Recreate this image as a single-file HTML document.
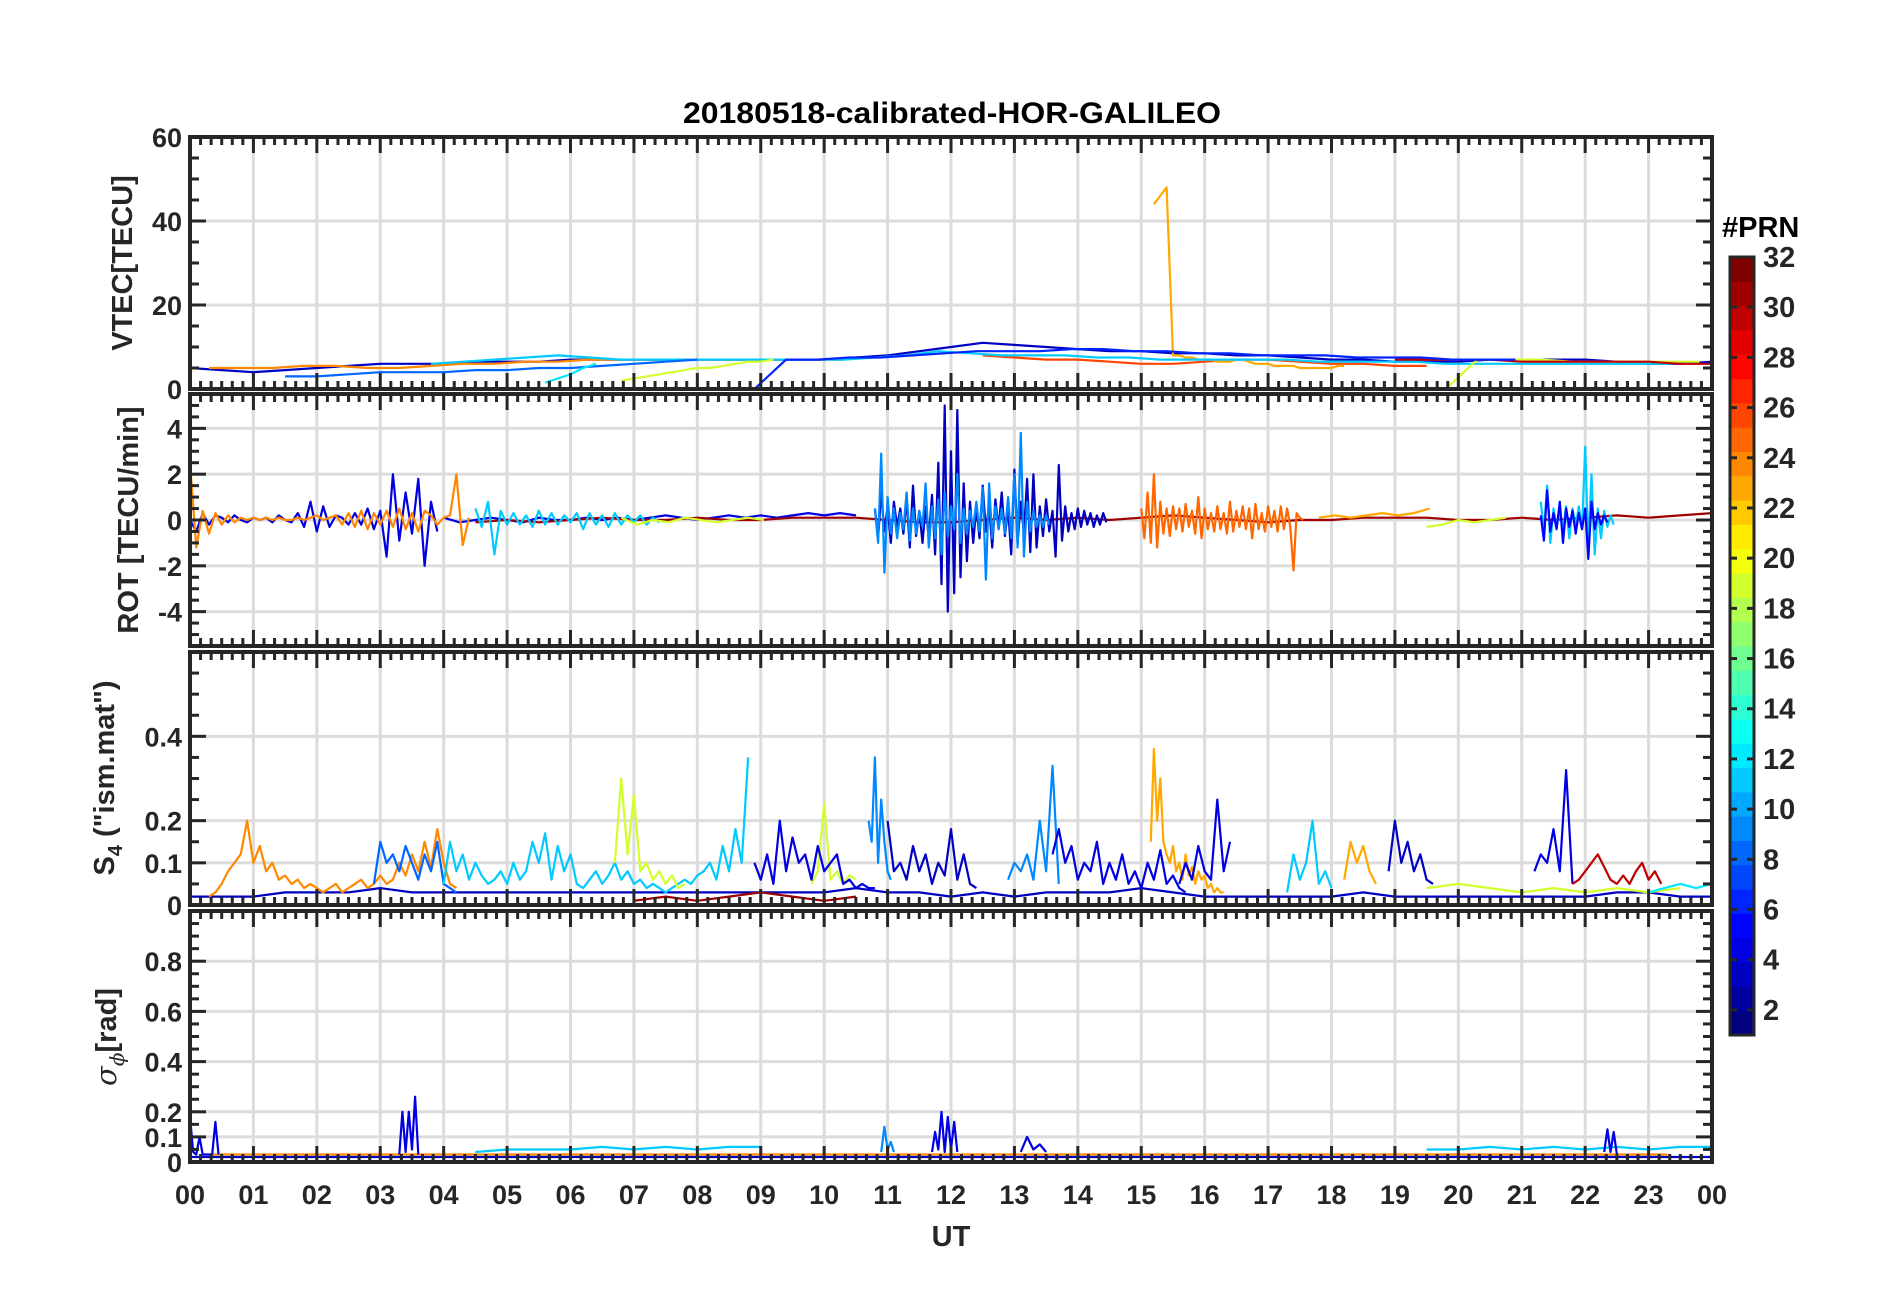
<!DOCTYPE html>
<html><head><meta charset="utf-8"><title>20180518-calibrated-HOR-GALILEO</title>
<style>
html,body{margin:0;padding:0;background:#fff;}
svg{display:block;font-family:"Liberation Sans",Arial,sans-serif;}
</style></head>
<body>
<svg id="chart" width="1902" height="1292" viewBox="0 0 1902 1292" xmlns="http://www.w3.org/2000/svg">
<rect width="1902" height="1292" fill="#fff"/>
<text x="952" y="123" text-anchor="middle" font-size="30" font-weight="bold" fill="#000" textLength="538" lengthAdjust="spacingAndGlyphs">20180518-calibrated-HOR-GALILEO</text>
<g id="panels"></g>
<text x="951" y="1246" text-anchor="middle" font-size="29" font-weight="bold" fill="#262626">UT</text>
<text transform="translate(132,263) rotate(-90)" text-anchor="middle" font-size="29" font-weight="bold" fill="#262626">VTEC[TECU]</text>
<text transform="translate(138,520) rotate(-90)" text-anchor="middle" font-size="29" font-weight="bold" fill="#262626">ROT [TECU/min]</text>
<text transform="translate(114,778) rotate(-90)" text-anchor="middle" font-size="29" font-weight="bold" fill="#262626">S<tspan font-size="20" dy="8">4</tspan><tspan dy="-8"> ("ism.mat")</tspan></text>
<text transform="translate(116,1037) rotate(-90)" text-anchor="middle" font-size="29" font-weight="bold" fill="#262626"><tspan font-style="italic" font-family="'DejaVu Serif',serif" font-weight="normal">σ</tspan><tspan font-size="20" dy="8" font-style="italic" font-family="'DejaVu Serif',serif" font-weight="normal">ϕ</tspan><tspan dy="-8">[rad]</tspan></text>
<g id="colorbar"></g>
<text x="1722" y="237" font-size="29" font-weight="bold" fill="#000">#PRN</text>
</svg>
<script>
// ---------- DATA ----------
const hourLabels = ["00","01","02","03","04","05","06","07","08","09","10","11","12","13","14","15","16","17","18","19","20","21","22","23","00"];
const vtecTicks = [0,20,40,60];
const rotTicks = [-4,-2,0,2,4];
const s4Ticks = [0,0.1,0.2,0.4];
const sigmaTicks = [0,0.1,0.2,0.4,0.6,0.8];
const prnTicks = [2,4,6,8,10,12,14,16,18,20,22,24,26,28,30,32];

const vtecSeries = [
 {prn:3,t0:0,dt:0.5,v:[5,4.5,4,4.5,5,5.5,6,6,6,6.5,6.5,6.5,7,7,7,7,7,7,7,7,7,7.5,8,9,10,11,10.5,10,9.5,9,9,8.5,8.5,8,8,7.5,7,7,6.5,6.5,6.5,7,7,7,7,6.5,6,6,6.5]},
 {prn:24,t0:0.3,dt:0.5,v:[5,5,5,5.5,5.5,5,5,5.5,6,6,6.5,6.5,7,7,7,7,7,7,7,7,7]},
 {prn:26,t0:12.5,dt:0.5,v:[8,7.5,7,7,6.5,6,6,6.5,7,7,6.5,6,6,5.5,5.5]},
 {prn:23,t0:15.2,dt:0.1,v:[44,46,48,8,8,7.5,7.5,7,7,7,6.5,6.5,6.5,7,7,6.5,6,6,6,5.5,5.5,5.5,5.5,5,5,5,5,5,5,5.5,5.5]},
 {prn:11,t0:3.8,dt:0.5,v:[6,6.5,7,7.5,8,7.5,7,7,7,7,7,7,7,7,7.5,8,9,8.5,8,8,8,7.5,7.5,7,7,7,7,7,6.5,6.5,6.5,6.5,6,6,6,6,6,6,6,6,6.5]},
 {prn:8,t0:1.5,dt:0.5,v:[3,3,3.5,4,4,4,4.5,4.5,5,5,5.5,6,6.5,7]},
 {prn:19,t0:6.8,dt:0.2,v:[2,2.5,3,3.5,4,4.5,5,5,5.5,6,6.5,6.5,7]},
 {prn:19,t0:19.8,dt:0.5,v:[0,7,7,7,6.5,6.5,6.5,6.5,6.5]},
 {prn:30,t0:19,dt:0.5,v:[7,7,7,7,6.5,6.5,6.5,6.5,6.5,6,6,5.5,5.5]},
 {prn:6,t0:8.9,dt:0.5,v:[0,7,7,7.5,7.5,8,8.5,9,9,9,9.5,9.5,9,9,8.5,8.5,8,8,8,7.5,7.5,7.5,7,7,7]},
 {prn:12,t0:5.6,dt:0.2,v:[1.5,2.5,3.5,5,6]}
];

const rotSeries = [
 {prn:4,t0:0,dt:0.1,v:[0,-0.5,0.3,-0.2,0.2,0.1,-0.1,0.2,0,-0.1,0.1,0,0.1,-0.1,0.2,0,-0.1,0.3,-0.3,0.8,-0.5,0.6,-0.3,0.2,0.1,-0.2,0.3,-0.2,0.5,-0.4,0.4,-1.6,2.0,-0.9,1.2,-0.6,1.8,-2.0,0.8,-0.5]},
 {prn:4,t0:4,dt:0.25,v:[0.1,-0.1,0,0.1,0,-0.1,0.1,0,0,0.1,0,0.1,0,0.1,0.2,0.1,0,0.1,0.2,0.1,0.2,0.1,0.2,0.3,0.2,0.3,0.2]},
 {prn:24,t0:0,dt:0.1,v:[2.5,-1.2,0.4,-0.6,0.3,-0.2,0.2,-0.1,0.1,0,0.1,0,0.1,0,0.1,0,0,0.1,0,0.1,0.2,0,0.1,0.2,-0.2,0.3,-0.3,0.4,-0.4,0.3,-0.2,0.4,-0.3,0.5,-0.4,0.3,-0.5,0.4,0.2,-0.2,0.1,0.2,2.0,-1.1,0.1]},
 {prn:31,t0:4.5,dt:0.5,v:[-0.1,0,-0.1,0,0.1,0,0,0.1,0,0,0.1,0.1,0.1,0,-0.1,-0.1,0,0.1,0,0.1,0,0.1,0.2,0.1,0,-0.1,0,0,0.1,0.1,0.1,0,0,0.1,0,0.1,0.2,0.1,0.2,0.3]},
 {prn:11,t0:4.5,dt:0.1,v:[0.5,-0.3,0.8,-1.5,0.4,-0.2,0.3,-0.2,0.2,-0.3,0.4,-0.2,0.3,-0.2,0.2,-0.1,0.3,-0.4,0.3,-0.2,0.2,-0.3,0.3,-0.2,0.2,-0.1,0.2,-0.2,0.1,-0.1]},
 {prn:19,t0:6.8,dt:0.25,v:[0.1,-0.2,0,-0.1,0.1,0,-0.1,0,0.1,0]},
 {prn:19,t0:19.5,dt:0.25,v:[-0.3,-0.2,0,-0.1,0,0.1]},
 {prn:3,t0:10.8,dt:0.05,v:[0.5,-0.8,1.2,-0.5,0.6,-1.0,0.8,-0.3,0.5,-0.6,0.9,-1.2,1.5,-0.7,0.4,-1.0,0.6,-0.8,1.1,-1.5,2.5,-2.8,5.0,-4.0,3.0,-3.2,4.8,-2.5,1.6,-1.8,0.8,-1.0,0.6,-0.8,1.5,-0.5,0.7,-1.2,0.9,-0.4,1.2,-0.7,0.5,-1.5,2.2,-1.0,0.8,-0.6,1.8,-1.4,2.0,-1.2,0.6,-0.7,0.9,-0.5,0.4,-1.6,2.4,-0.9,0.6,-0.5,0.3,-0.4,0.5,-0.3,0.4,-0.2,0.3,-0.3,0.2,-0.2,0.3,-0.1]},
 {prn:9,t0:10.8,dt:0.05,v:[0.5,-1,2.9,-2.3,1,-0.6,0.5,-0.8,0.3,-0.4,1.2,-0.9,0.5,-0.6,0.4,-0.3,1.6,-1.2,0.6,-0.8,0.9,-1.5,1.2,-0.7,0.6,-0.4,2.0,-1.0,0.5,-0.6,0.4,-0.3,0.8,-0.5,1.4,-2.6,1.6,-0.8,0.6,-0.4,0.5,-0.6,1.0,-0.8,2.0,-1.2,3.8,-1.6,0.8,-0.5,0.4,-0.3,0.2,-0.3,0.2,-0.2]},
 {prn:25,t0:15,dt:0.05,v:[0.5,-0.8,1.2,-1.0,2.0,-1.2,0.8,-0.6,0.5,-0.7,0.6,-0.4,0.5,-0.5,0.7,-0.3,0.4,-0.6,1.0,-0.8,0.5,-0.4,0.3,-0.5,0.6,-0.4,0.3,-0.6,0.8,-0.5,0.4,-0.3,0.6,-0.4,0.5,-0.8,0.7,-0.4,0.3,-0.5,0.6,-0.3,0.4,-0.5,0.6,-0.4,0.5,-0.3,-2.2,0.3,0.1,0]},
 {prn:23,t0:17.8,dt:0.25,v:[0.1,0.2,0.1,0.2,0.3,0.2,0.3,0.5]},
 {prn:11,t0:21.3,dt:0.05,v:[0.8,-0.5,1.5,-1.0,0.5,-0.3,0.4,-0.4,0.6,-0.8,0.5,-0.3,0.6,-0.4,3.2,-1.2,2.0,-1.5,0.5,-0.8,0.4,-0.3,0.2,-0.2]},
 {prn:5,t0:21.3,dt:0.05,v:[0.2,-0.9,1.3,-0.5,0.3,-0.4,0.8,-1.0,0.5,-0.3,0.4,-0.6,0.3,-0.4,0.5,-1.7,0.8,-0.4,0.3,-0.2,0.2,-0.1]}
];

const s4Series = [
 {prn:3,t0:0,dt:0.5,v:[0.02,0.02,0.02,0.03,0.03,0.03,0.04,0.03,0.03,0.03,0.03,0.03,0.03,0.03,0.03,0.03,0.03,0.03,0.03,0.03,0.03,0.04,0.03,0.03,0.02,0.03,0.02,0.03,0.03,0.03,0.04,0.03,0.02,0.02,0.02,0.02,0.02,0.03,0.02,0.02,0.02,0.02,0.02,0.02,0.02,0.03,0.03,0.02,0.02]},
 {prn:31,t0:7,dt:0.5,v:[0.01,0.02,0.01,0.02,0.03,0.02,0.01,0.02]},
 {prn:24,t0:0.3,dt:0.1,v:[0.02,0.03,0.05,0.08,0.1,0.12,0.2,0.1,0.14,0.08,0.1,0.06,0.07,0.05,0.06,0.04,0.05,0.04,0.03,0.04,0.05,0.03,0.04,0.05,0.06,0.04,0.05,0.07,0.05,0.06,0.1,0.07,0.12,0.08,0.15,0.09,0.18,0.1,0.05,0.04]},
 {prn:8,t0:2.9,dt:0.1,v:[0.05,0.15,0.1,0.12,0.08,0.14,0.1,0.06,0.12,0.08,0.15,0.05,0.04,0.03]},
 {prn:11,t0:4,dt:0.1,v:[0.05,0.15,0.08,0.12,0.06,0.1,0.07,0.05,0.06,0.08,0.05,0.1,0.06,0.08,0.15,0.1,0.17,0.06,0.14,0.08,0.12,0.05,0.04,0.06,0.08,0.05,0.07,0.1,0.06,0.08,0.05,0.06,0.04,0.05,0.04,0.03,0.04,0.05,0.06,0.05,0.07,0.08,0.1,0.06,0.14,0.08,0.18,0.1,0.35]},
 {prn:19,t0:6.7,dt:0.1,v:[0.1,0.3,0.12,0.26,0.08,0.1,0.06,0.08,0.05,0.07,0.04,0.05]},
 {prn:19,t0:9.8,dt:0.1,v:[0.05,0.08,0.24,0.06,0.08,0.05,0.07,0.06]},
 {prn:4,t0:8.9,dt:0.1,v:[0.1,0.06,0.12,0.05,0.2,0.08,0.16,0.1,0.12,0.06,0.14,0.08,0.1,0.12,0.05,0.06,0.04,0.05,0.04,0.04]},
 {prn:9,t0:10.7,dt:0.05,v:[0.2,0.15,0.35,0.1,0.25,0.15,0.08,0.06]},
 {prn:3,t0:11,dt:0.1,v:[0.2,0.08,0.1,0.06,0.14,0.08,0.12,0.05,0.1,0.07,0.18,0.06,0.12,0.05,0.04]},
 {prn:9,t0:12.9,dt:0.1,v:[0.06,0.1,0.08,0.12,0.06,0.2,0.08,0.33,0.05]},
 {prn:4,t0:13.6,dt:0.1,v:[0.12,0.18,0.1,0.14,0.06,0.1,0.08,0.15,0.05,0.1,0.06,0.12,0.05,0.08,0.04,0.1,0.06,0.13,0.05,0.07,0.04,0.03]},
 {prn:23,t0:15.15,dt:0.05,v:[0.15,0.37,0.2,0.3,0.15,0.12,0.1,0.14,0.08,0.1,0.06,0.12,0.07,0.09,0.05,0.08,0.06,0.07,0.04,0.05,0.03,0.04,0.03,0.03]},
 {prn:4,t0:15.6,dt:0.1,v:[0.05,0.1,0.06,0.14,0.08,0.06,0.25,0.08,0.15]},
 {prn:11,t0:17.3,dt:0.1,v:[0.03,0.12,0.06,0.1,0.2,0.05,0.08,0.04]},
 {prn:23,t0:18.2,dt:0.1,v:[0.06,0.15,0.1,0.14,0.08,0.05]},
 {prn:3,t0:18.9,dt:0.1,v:[0.08,0.2,0.1,0.15,0.08,0.12,0.06,0.05]},
 {prn:4,t0:21.2,dt:0.1,v:[0.08,0.12,0.1,0.18,0.08,0.32,0.05]},
 {prn:30,t0:21.8,dt:0.1,v:[0.05,0.06,0.08,0.1,0.12,0.09,0.06,0.05,0.07,0.05,0.08,0.1,0.06,0.08,0.05]},
 {prn:19,t0:19.5,dt:0.5,v:[0.04,0.05,0.04,0.03,0.04,0.03,0.04,0.03,0.04]},
 {prn:12,t0:23,dt:0.25,v:[0.03,0.04,0.05,0.04,0.05]}
];

const sigmaSeries = [
 {prn:3,t0:0,dt:1,v:[0.02,0.02,0.02,0.02,0.02,0.02,0.02,0.02,0.02,0.02,0.02,0.02,0.02,0.02,0.02,0.02,0.02,0.02,0.02,0.02,0.02,0.02,0.02,0.02,0.02]},
 {prn:24,t0:0.3,dt:1,v:[0.03,0.03,0.03,0.03,0.03,0.03,0.03,0.03,0.03,0.03,0.03,0.03,0.03,0.03,0.03,0.03,0.03,0.03,0.03,0.03,0.03,0.03,0.03,0.03]},
 {prn:11,t0:4.5,dt:0.5,v:[0.04,0.05,0.05,0.05,0.06,0.05,0.06,0.05,0.06,0.06]},
 {prn:11,t0:19.5,dt:0.5,v:[0.05,0.05,0.06,0.05,0.06,0.05,0.06,0.05,0.06,0.06]},
 {prn:4,t0:0,dt:0.05,v:[0.18,0.04,0.03,0.1,0.03,0.03,0.03,0.03,0.16,0.03]},
 {prn:4,t0:3.3,dt:0.05,v:[0.03,0.2,0.04,0.2,0.05,0.26,0.03]},
 {prn:4,t0:11.7,dt:0.05,v:[0.04,0.12,0.05,0.2,0.04,0.18,0.05,0.16,0.04]},
 {prn:4,t0:13.1,dt:0.1,v:[0.04,0.1,0.05,0.07,0.04]},
 {prn:4,t0:22.3,dt:0.05,v:[0.04,0.13,0.04,0.12,0.03]},
 {prn:9,t0:10.9,dt:0.05,v:[0.04,0.14,0.05,0.08,0.04]}
];

// ---------- LAYOUT ----------
const X0 = 190, X1 = 1712;
const panelDefs = [
 {name:"vtec", top:137, bottom:389, min:0, max:60, ticks:vtecTicks, minor:5, grid:[20,40], series:vtecSeries},
 {name:"rot", top:394, bottom:646, min:-5.5, max:5.5, ticks:rotTicks, minor:0.5, grid:[-4,-2,0,2,4], series:rotSeries},
 {name:"s4", top:652, bottom:905, min:0, max:0.6, ticks:s4Ticks, minor:0.05, grid:[0.1,0.2,0.4], series:s4Series},
 {name:"sigma", top:911, bottom:1162, min:0, max:1, ticks:sigmaTicks, minor:0.05, grid:[0.1,0.2,0.4,0.6,0.8], series:sigmaSeries}
];
const NS = "http://www.w3.org/2000/svg";
function xs(t){ return X0 + t/24*(X1-X0); }
function jet(p){
  const x = (p-1)/31;
  const c = v => Math.round(255*Math.max(0,Math.min(1,v)));
  return `rgb(${c(1.5-Math.abs(4*x-3))},${c(1.5-Math.abs(4*x-2))},${c(1.5-Math.abs(4*x-1))})`;
}
function mk(tag, attrs, parent){
  const e = document.createElementNS(NS, tag);
  for (const k in attrs) e.setAttribute(k, attrs[k]);
  parent.appendChild(e);
  return e;
}
const panelsG = document.getElementById("panels");
const axisColor = "#262626";

panelDefs.forEach(p => {
  const ys = v => p.bottom - (v-p.min)/(p.max-p.min)*(p.bottom-p.top);
  const g = mk("g", {}, panelsG);
  
  
  for (let h=1; h<24; h++){
    const l = mk("line", {x1:xs(h), x2:xs(h), y1:p.top, y2:p.bottom, stroke:"#dcdcdc", "stroke-width":3}, g);
    
    
  }
  p.grid.forEach(v => {
    const l = mk("line", {x1:X0, x2:X1, y1:ys(v), y2:ys(v), stroke:"#dcdcdc", "stroke-width":3}, g);
    
    
  });
  const clip = "clip-" + p.name;
  const cp = mk("clipPath", {id:clip}, g);
  mk("rect", {x:X0, y:p.top, width:X1-X0, height:p.bottom-p.top}, cp);
  const sg = mk("g", {"clip-path":`url(#${clip})`}, g);
  p.series.forEach(s => {
    const pts = s.v.map((v,i) => xs(s.t0 + i*s.dt).toFixed(1) + "," + ys(v).toFixed(1)).join(" ");
    const pl = mk("polyline", {points:pts, fill:"none", stroke:jet(s.prn), "stroke-width":2.2, "stroke-linejoin":"round"}, sg);
    
    
  });
  for (let m=0; m<=24*6; m++){
    const t = m/6, major = (m%6===0), len = major?16:8;
    mk("line", {x1:xs(t), x2:xs(t), y1:p.bottom, y2:p.bottom-len, stroke:axisColor, "stroke-width":3}, g);
    mk("line", {x1:xs(t), x2:xs(t), y1:p.top, y2:p.top+len, stroke:axisColor, "stroke-width":3}, g);
  }
  const nMinor = Math.round((p.max-p.min)/p.minor);
  for (let k=0; k<=nMinor; k++){
    const v = p.min + k*p.minor;
    const major = p.ticks.some(t => Math.abs(t-v)<1e-6);
    const len = major?16:9;
    mk("line", {x1:X0, x2:X0+len, y1:ys(v), y2:ys(v), stroke:axisColor, "stroke-width":3}, g);
    mk("line", {x1:X1, x2:X1-len, y1:ys(v), y2:ys(v), stroke:axisColor, "stroke-width":3}, g);
  }
  p.ticks.forEach(v => {
    const tx = mk("text", {x:X0-8, y:ys(v)+10, "text-anchor":"end", "font-size":27, "font-weight":"bold", fill:axisColor}, g);
    tx.textContent = String(v);
    
    
  });
  const fr = mk("rect", {x:X0, y:p.top, width:X1-X0, height:p.bottom-p.top, fill:"none", stroke:axisColor, "stroke-width":4}, g);
  
  
});

hourLabels.forEach((lab,i) => {
  const tx = mk("text", {x:xs(i), y:1204, "text-anchor":"middle", "font-size":27, "font-weight":"bold", fill:axisColor}, panelsG);
  tx.textContent = lab;
  
  
});

const cb = document.getElementById("colorbar");
const CBX0 = 1730, CBX1 = 1754, CBT = 257, CBB = 1035;
const cy = v => CBB - (v-1)/31*(CBB-CBT);
const bh = (CBB-CBT)/32;
for (let i=0;i<32;i++){
  const r = mk("rect", {x:CBX0, y:CBB-(i+1)*bh, width:CBX1-CBX0, height:bh+0.5, fill:jet(1+i)}, cb);
  
  
}
prnTicks.forEach(v => {
  mk("line", {x1:CBX0, x2:CBX0+7, y1:cy(v), y2:cy(v), stroke:axisColor, "stroke-width":3}, cb);
  mk("line", {x1:CBX1, x2:CBX1-7, y1:cy(v), y2:cy(v), stroke:axisColor, "stroke-width":3}, cb);
  const tx = mk("text", {x:1763, y:cy(v)+10, "font-size":29, "font-weight":"bold", fill:axisColor}, cb);
  tx.textContent = String(v);
  
  
});
mk("rect", {x:CBX0, y:CBT, width:CBX1-CBX0, height:CBB-CBT, fill:"none", stroke:axisColor, "stroke-width":3}, cb);
</script>
</body></html>
